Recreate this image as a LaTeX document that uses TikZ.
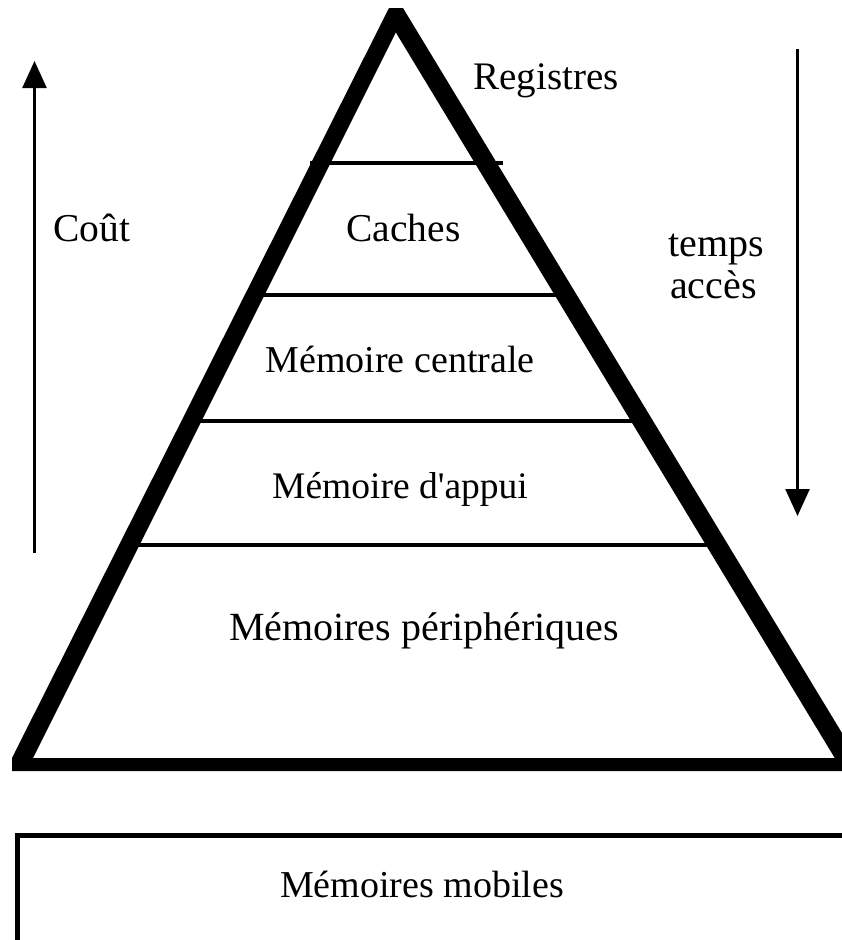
\documentclass[tikz,border=0pt]{standalone}
\usepackage{fontspec}
\setmainfont{Liberation Serif}
\usetikzlibrary{arrows.meta}
\newcommand{\fs}[1]{\fontsize{#1}{#1}\selectfont}
\begin{document}
\begin{tikzpicture}[x=1pt,y=-1pt,
  txt/.style={font=\fs{39.5}, inner sep=0pt, anchor=base},
  level/.style={line width=4pt},
  axis/.style={line width=2.5pt, -{Triangle[length=27pt,width=24pt]}},
  frame/.style={line width=5pt}]
\useasboundingbox (0,0) rectangle (842,940);
\begin{scope}
\clip (0,0) rectangle (842,940);
% levels of the hierarchy
\draw[level] (310,163) -- (503,163);
\draw[level] (258,295) -- (560,295);
\draw[level] (196,421) -- (636,421);
\draw[level] (134,545) -- (711,545);
% thick pyramid outline (outer contour minus inner triangle)
\fill[even odd rule] (389,8) -- (403,8) -- (865,771) -- (12,771) -- (12,758) -- cycle
  (395.8,32.4) -- (834.75,758) -- (33,758) -- cycle;
% removable media box
\draw[frame] (17.5,835) rectangle (880,980);
\end{scope}
% cost and access-time arrows
\coordinate (cost-foot) at (34.5,553);
\coordinate (cost-tip) at (34.5,61);
\coordinate (time-top) at (797.5,49);
\coordinate (time-tip) at (797.5,516);
\draw[axis] (cost-foot) -- (cost-tip);
\draw[axis] (time-top) -- (time-tip);
% labels
\node[txt, font=\fs{39}] (reg) at (546,89) {Registres};
\node[txt] (cache) at (403.5,241) {Caches};
\node[txt] (cout) at (92,241) {Coût};
\node[txt, font=\fs{40}, anchor=base west] (temps) at (668,256) {temps};
\node[txt, font=\fs{40}, anchor=base west] (acces) at (670,298) {accès};
\node[txt, font=\fs{38}] (centrale) at (400,372) {Mémoire centrale};
\node[txt, font=\fs{37.5}] (appui) at (400,498) {Mémoire d\textquotesingle appui};
\node[txt, font=\fs{40}] (periph) at (424,640) {Mémoires périphériques};
\node[txt, font=\fs{38}] (mobiles) at (422,897) {Mémoires mobiles};
\end{tikzpicture}
\end{document}
